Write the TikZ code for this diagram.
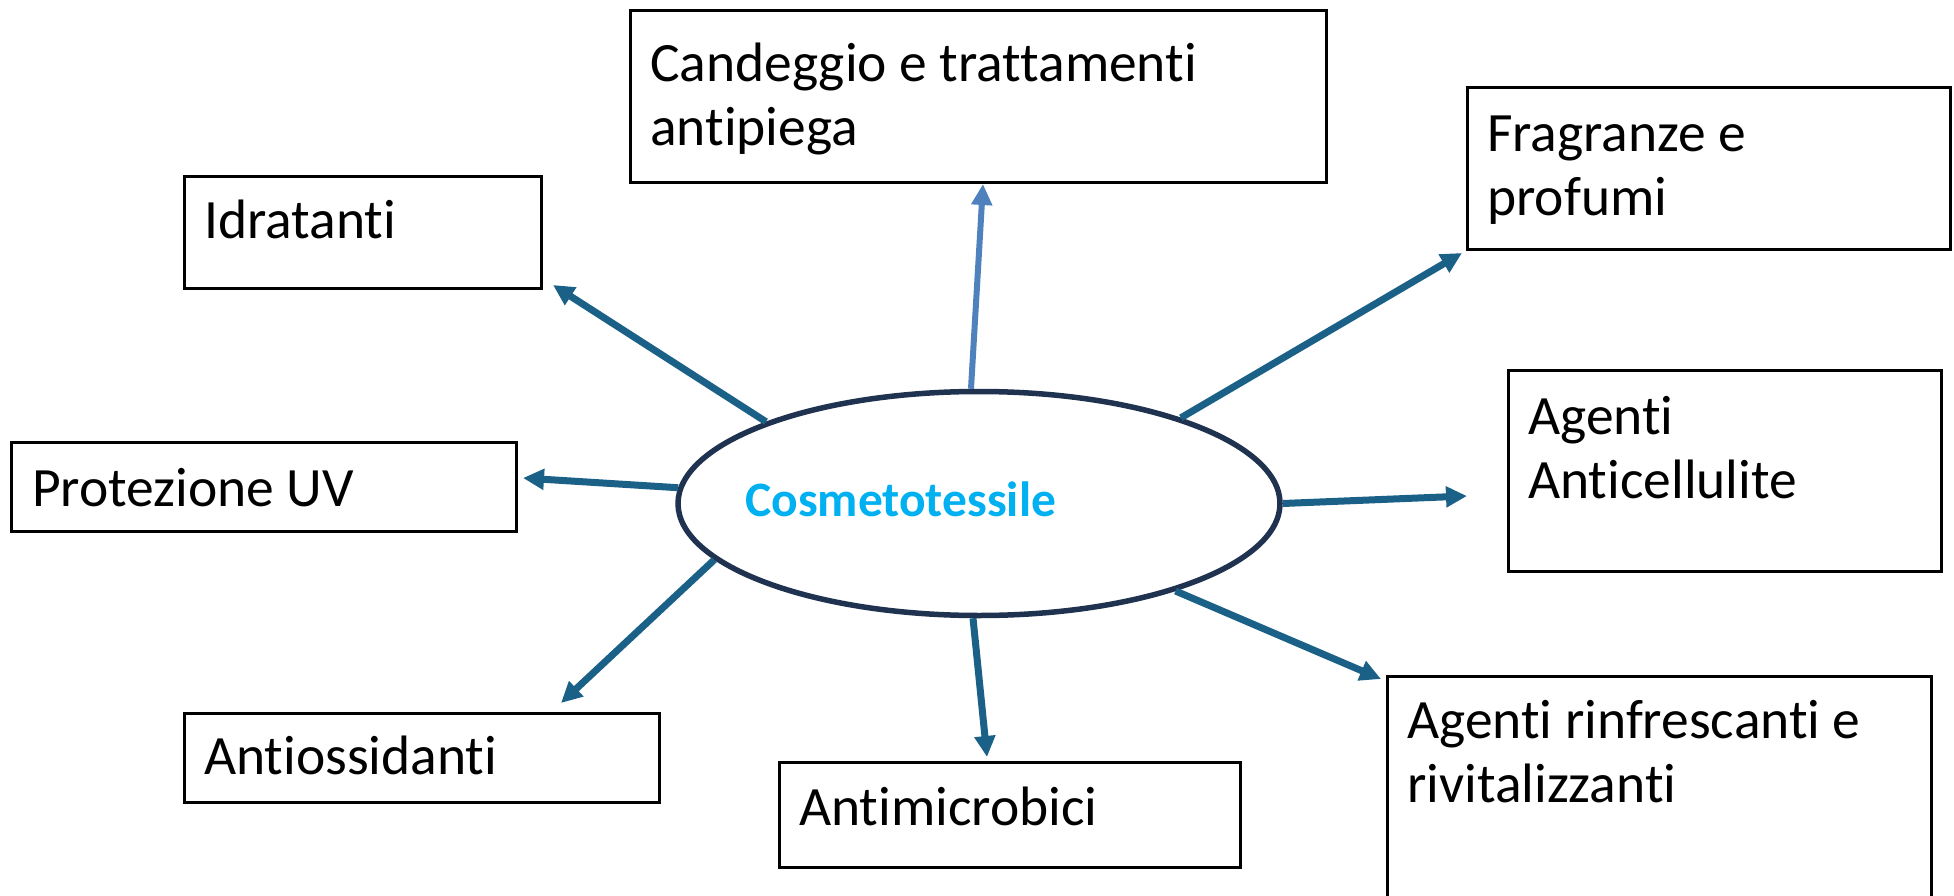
\documentclass[tikz,border=0pt]{standalone}
\usepackage{fontspec}
\setmainfont{Carlito}[Ligatures=NoCommon]
\usetikzlibrary{shapes.geometric,arrows.meta}
\definecolor{arrc}{HTML}{1B6187}
\definecolor{arrl}{HTML}{4F81BD}
\definecolor{ellc}{HTML}{1F3250}
\definecolor{cyanc}{HTML}{00B0F0}
\begin{document}
\begin{tikzpicture}[x=1pt,y=-1pt,
  box/.style={draw=black,line width=3pt,rectangle,inner sep=0pt,anchor=north west},
  lbl/.style={anchor=base west,inner sep=0pt,align=left,font=\fontsize{55.5}{64}\selectfont},
  arr/.style={draw=arrc,line width=7pt,-{Triangle[length=21pt,width=20pt]}},
  arrlight/.style={draw=arrl,line width=6pt,-{Triangle[length=21pt,width=20pt]}}]
\useasboundingbox (0,0) rectangle (1954,896);
\clip (0,0) rectangle (1954,896);
% boxes
\node[box,minimum width=696pt,minimum height=172pt] (b1) at (629,9) {};
\node[box,minimum width=357pt,minimum height=112pt] (b2) at (183,175) {};
\node[box,minimum width=483pt,minimum height=162pt] (b3) at (1466,86) {};
\node[box,minimum width=433pt,minimum height=201pt] (b4) at (1507,369) {};
\node[box,minimum width=505pt,minimum height=89pt] (b5) at (10,441) {};
\node[box,minimum width=475pt,minimum height=89pt] (b6) at (183,712) {};
\node[box,minimum width=461pt,minimum height=105pt] (b7) at (778,761) {};
\node[box,minimum width=544pt,minimum height=260pt] (b8) at (1386,675) {};
% labels (base anchor = baseline of last line)
\node[lbl] (l1) at ([shift={(21,137)}]b1.north west) {Candeggio e trattamenti\\antipiega};
\node[lbl] (l2) at ([shift={(21,64)}]b2.north west) {Idratanti};
\node[lbl] (l3) at ([shift={(21,129)}]b3.north west) {Fragranze e\\profumi};
\node[lbl] (l4) at ([shift={(21,129)}]b4.north west) {Agenti\\Anticellulite};
\node[lbl] (l5) at ([shift={(22,65)}]b5.north west) {Protezione UV};
\node[lbl] (l6) at ([shift={(21,62)}]b6.north west) {Antiossidanti};
\node[lbl] (l7) at ([shift={(21,64)}]b7.north west) {Antimicrobici};
\node[lbl] (l8) at ([shift={(21,127)}]b8.north west) {Agenti rinfrescanti e\\rivitalizzanti};
% centre
\node[draw=ellc,line width=5.5pt,ellipse,minimum width=602pt,minimum height=224pt,inner sep=0pt] (c) at (979,503.5) {};
\node[anchor=base west,inner sep=0pt,font=\fontsize{49.5}{59}\selectfont\bfseries,text=cyanc] (ct) at (745,516) {Cosmetotessile};
% arrow tips
\coordinate (t1) at (553,285);
\coordinate (t2) at (983,184);
\coordinate (t3) at (1462,253);
\coordinate (t4) at (1467,496);
\coordinate (t5) at (1381,679);
\coordinate (t6) at (987,757);
\coordinate (t7) at (561,703);
\coordinate (t8) at (523,478);
\draw[arr] (c.159.1) -- (t1);
\draw[arrlight] (c.94.6) -- (t2);
\draw[arr] (c.23.8) -- (t3);
\draw[arr] (c.0) -- (t4);
\draw[arr] (c.-24.1) -- (t5);
\draw[arr] (c.-93) -- (t6);
\draw[arr] (c.192.8) -- (t7);
\draw[arr] (c.177.6) -- (t8);
\end{tikzpicture}
\end{document}
